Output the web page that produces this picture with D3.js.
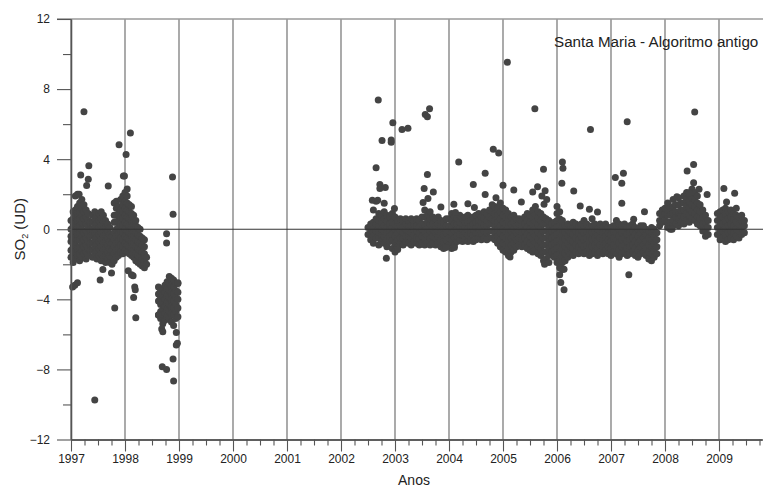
<!DOCTYPE html>
<html>
<head>
<meta charset="utf-8">
<script src="https://cdn.jsdelivr.net/npm/d3@7"></script>
<style>
    body { margin: 0; background: #fff; }
    svg { display: block; }
    text { font-family: "Liberation Sans", Arial, sans-serif; fill: #222; }
</style>
</head>
<body>
<div id="chart"></div>
<script>
"use strict";

const WIDTH = 763;
const HEIGHT = 488;

const TITLE = "Santa Maria - Algoritmo antigo";
const X_LABEL = "Anos";

const YEARS = [1997, 1998, 1999, 2000, 2001, 2002, 2003, 2004, 2005, 2006, 2007, 2008, 2009];
const Y_MAJOR = [-12, -8, -4, 0, 4, 8, 12];
const Y_MINOR = [-10, -6, -2, 2, 6, 10];

// columns of observations: [decimal year, [SO2 values]]
const band1997 = [
    [1997.00, [-1.6, -1.2, -0.7, -0.4, 0.0, 0.5]],
    [1997.04, [-1.9, -1.4, -1.0, -0.6, -0.2, 0.2, 0.6, 1.0]],
    [1997.08, [-1.7, -1.3, -0.9, -0.5, -0.1, 0.3, 0.8, 1.1, 1.9]],
    [1997.12, [-1.5, -1.1, -0.6, -0.3, 0.1, 0.5, 0.9, 1.3, 2.0]],
    [1997.16, [-1.8, -1.4, -1.0, -0.6, -0.2, 0.2, 0.6, 1.0, 1.5]],
    [1997.20, [-1.6, -1.2, -0.8, -0.4, 0.0, 0.4, 0.8, 1.2, 1.7]],
    [1997.24, [-1.4, -1.0, -0.6, -0.2, 0.3, 0.6, 1.0, 1.4]],
    [1997.28, [-1.7, -1.3, -0.9, -0.5, -0.1, 0.3, 0.7, 1.1]],
    [1997.32, [-1.5, -1.1, -0.7, -0.3, 0.1, 0.5, 0.9]],
    [1997.36, [-1.2, -0.8, -0.4, 0.0, 0.4]],
    [1997.40, [-1.6, -1.2, -0.8, -0.3, 0.0, 0.4, 0.8]],
    [1997.44, [-1.4, -1.0, -0.6, -0.2, 0.2, 0.6, 1.0]],
    [1997.48, [-1.7, -1.3, -0.9, -0.5, -0.1, 0.3, 0.7]],
    [1997.52, [-1.5, -1.1, -0.7, -0.3, 0.1, 0.5, 0.9]],
    [1997.56, [-1.8, -1.4, -1.0, -0.6, -0.2, 0.2, 0.6, 1.0]],
    [1997.60, [-1.6, -1.2, -0.8, -0.4, 0.0, 0.4, 0.8]],
    [1997.64, [-1.9, -1.5, -1.1, -0.7, -0.3, 0.1, 0.5]],
    [1997.68, [-1.7, -1.3, -0.9, -0.5, -0.1, 0.3]],
    [1997.72, [-1.9, -1.5, -1.1, -0.7, -0.3, 0.1]],
    [1997.76, [-2.0, -1.6, -1.2, -0.8, -0.4]],
    [1997.80, [-1.8, -1.4, -1.0, -0.6, -0.2, 0.4, 0.8, 1.5]],
    [1997.84, [-1.6, -1.2, -0.8, -0.4, 0.0, 0.4, 0.8, 1.2, 1.6]],
    [1997.88, [-1.5, -1.1, -0.7, -0.3, 0.1, 0.5, 0.9, 1.3]],
    [1997.92, [-1.3, -0.9, -0.5, -0.1, 0.3, 0.7, 1.1, 1.7]],
    [1997.96, [-1.4, -1.0, -0.6, -0.2, 0.2, 0.6, 1.0, 1.4, 1.9]],
    [1998.00, [-1.2, -0.8, -0.4, 0.0, 0.4, 0.8, 1.2, 1.6, 2.1]],
    [1998.04, [-1.3, -0.9, -0.5, -0.1, 0.3, 0.7, 1.1, 1.5, 1.9, 2.3]],
    [1998.08, [-1.4, -1.0, -0.6, -0.2, 0.2, 0.6, 1.0, 1.4]],
    [1998.12, [-1.5, -1.1, -0.7, -0.3, 0.1, 0.5, 0.9, 1.3]],
    [1998.16, [-1.6, -1.2, -0.8, -0.4, 0.0, 0.4, 0.8]],
    [1998.20, [-1.8, -1.4, -1.0, -0.6, -0.2, 0.2, 0.5]],
    [1998.24, [-1.9, -1.5, -1.1, -0.7, -0.3, 0.1]],
    [1998.28, [-2.0, -1.6, -1.2, -0.8, -0.4, 0.0]],
    [1998.32, [-2.1, -1.7, -1.3, -0.9, -0.5]],
    [1998.36, [-2.2, -1.8, -1.4, -1.0, -0.6]],
    [1998.40, [-2.0, -1.6]]
];

const band1998 = [
    [1998.62, [-3.3, -3.7, -4.1, -4.9]],
    [1998.66, [-3.5, -3.9, -4.3, -4.7, -5.1]],
    [1998.70, [-3.4, -3.8, -4.2, -4.6, -5.0, -5.4]],
    [1998.74, [-3.2, -3.6, -4.0, -4.4, -4.8, -5.2]],
    [1998.78, [-3.0, -3.4, -3.8, -4.2, -4.6, -5.0]],
    [1998.82, [-2.7, -3.1, -3.5, -3.9, -4.3, -4.7, -5.1]],
    [1998.86, [-2.8, -3.2, -3.6, -4.0, -4.4, -4.8, -5.3]],
    [1998.90, [-2.9, -3.3, -3.7, -4.1, -4.5, -4.9, -5.5]],
    [1998.94, [-3.1, -3.5, -3.9, -4.3, -4.7, -5.1]],
    [1998.98, [-3.1, -3.6, -4.0, -4.5, -5.0]]
];

const band2003 = [
    [2002.50, [-0.3, 0.1]],
    [2002.55, [-0.6, -0.2, 0.3]],
    [2002.60, [-0.8, -0.4, 0.0, 0.4, 1.1]],
    [2002.65, [-0.5, -0.1, 0.3, 0.6, 1.6]],
    [2002.70, [-0.9, -0.5, -0.2, 0.2, 0.5, 0.9]],
    [2002.75, [-0.7, -0.3, 0.0, 0.4, 0.8]],
    [2002.80, [-0.8, -0.4, -0.1, 0.2, 0.6, 1.0]],
    [2002.85, [-1.0, -0.6, -0.2, 0.1, 0.5, 0.8]],
    [2002.90, [-0.7, -0.4, 0.0, 0.3, 0.7]],
    [2002.95, [-1.1, -0.6, -0.3, 0.1, 0.4, 0.9]],
    [2003.00, [-1.2, -0.8, -0.4, 0.0, 0.3, 0.7]],
    [2003.05, [-1.0, -0.6, -0.2, 0.2, 0.5]],
    [2003.10, [-0.8, -0.5, -0.1, 0.2, 0.6]],
    [2003.15, [-0.9, -0.5, -0.2, 0.1, 0.5]],
    [2003.20, [-0.7, -0.4, 0.0, 0.3, 0.6]],
    [2003.25, [-0.8, -0.4, -0.1, 0.2, 0.5]],
    [2003.30, [-0.9, -0.5, -0.2, 0.2, 0.6]],
    [2003.35, [-0.7, -0.3, 0.0, 0.3, 0.5]],
    [2003.40, [-0.8, -0.5, -0.1, 0.2, 0.6]],
    [2003.45, [-0.9, -0.5, -0.2, 0.1, 0.5]],
    [2003.50, [-0.8, -0.4, 0.0, 0.3, 0.7]],
    [2003.55, [-0.9, -0.5, -0.1, 0.3, 0.7, 1.1]],
    [2003.60, [-0.8, -0.4, 0.0, 0.4, 0.8]],
    [2003.65, [-0.9, -0.5, -0.1, 0.3, 0.6, 1.0]],
    [2003.70, [-0.8, -0.4, 0.0, 0.3, 0.7]],
    [2003.75, [-0.9, -0.5, -0.2, 0.2, 0.6]],
    [2003.80, [-0.8, -0.4, -0.1, 0.3, 0.7]],
    [2003.85, [-1.0, -0.6, -0.2, 0.2, 0.5]],
    [2003.90, [-1.1, -0.7, -0.3, 0.1, 0.4]],
    [2003.95, [-1.0, -0.6, -0.2, 0.2, 0.6]],
    [2004.00, [-0.9, -0.5, -0.1, 0.2, 0.6]],
    [2004.05, [-1.1, -0.6, -0.2, 0.1, 0.5, 0.9]],
    [2004.10, [-0.9, -0.5, -0.1, 0.3, 0.7]],
    [2004.15, [-0.7, -0.4, 0.0, 0.3, 0.6]],
    [2004.20, [-0.6, -0.3, 0.1, 0.4, 0.8]],
    [2004.25, [-0.7, -0.3, 0.0, 0.3, 0.6]],
    [2004.30, [-0.6, -0.2, 0.1, 0.4, 0.7]],
    [2004.35, [-0.7, -0.3, 0.0, 0.4, 0.8]],
    [2004.40, [-0.6, -0.2, 0.2, 0.5]],
    [2004.45, [-0.7, -0.3, 0.0, 0.3, 0.7]],
    [2004.50, [-0.6, -0.2, 0.1, 0.4, 0.8]],
    [2004.55, [-0.5, -0.2, 0.2, 0.5, 0.9]],
    [2004.60, [-0.6, -0.2, 0.1, 0.4, 0.7]],
    [2004.65, [-0.5, -0.1, 0.2, 0.6, 1.0]],
    [2004.70, [-0.6, -0.2, 0.2, 0.5, 0.9]],
    [2004.75, [-0.5, -0.1, 0.3, 0.7, 1.1]],
    [2004.80, [-0.5, -0.1, 0.3, 0.6, 1.0, 1.4]],
    [2004.85, [-0.6, -0.2, 0.2, 0.5, 0.9, 1.3]],
    [2004.90, [-0.8, -0.4, 0.0, 0.4, 0.8, 1.2]],
    [2004.95, [-1.0, -0.6, -0.2, 0.2, 0.6, 1.0, 1.5]]
];

const band2005 = [
    [2005.00, [-1.2, -0.8, -0.4, 0.0, 0.4, 0.8, 1.2]],
    [2005.05, [-1.3, -0.9, -0.5, -0.1, 0.3, 0.7, 1.1]],
    [2005.10, [-1.5, -1.1, -0.7, -0.3, 0.1, 0.5, 0.9]],
    [2005.15, [-1.3, -0.9, -0.5, -0.1, 0.3, 0.7]],
    [2005.20, [-1.2, -0.8, -0.4, 0.0, 0.4, 0.8]],
    [2005.25, [-1.0, -0.6, -0.2, 0.2, 0.6]],
    [2005.30, [-0.9, -0.5, -0.1, 0.3, 0.6]],
    [2005.35, [-1.0, -0.6, -0.2, 0.2, 0.5]],
    [2005.40, [-0.9, -0.5, -0.1, 0.3, 0.7]],
    [2005.45, [-1.1, -0.7, -0.3, 0.1, 0.5, 0.9]],
    [2005.50, [-1.2, -0.8, -0.4, 0.0, 0.4, 0.8]],
    [2005.55, [-1.3, -0.9, -0.5, -0.1, 0.3, 0.7, 1.1]],
    [2005.60, [-1.2, -0.8, -0.4, 0.0, 0.4, 0.8, 1.3]],
    [2005.65, [-1.4, -1.0, -0.6, -0.2, 0.2, 0.6, 1.0]],
    [2005.70, [-1.5, -1.1, -0.7, -0.3, 0.1, 0.5, 0.9]],
    [2005.75, [-1.8, -1.3, -0.9, -0.5, -0.1, 0.3, 0.7]],
    [2005.80, [-1.7, -1.3, -0.9, -0.5, -0.1, 0.3, 0.6]],
    [2005.85, [-1.5, -1.1, -0.7, -0.3, 0.1, 0.5]],
    [2005.90, [-1.3, -0.9, -0.5, -0.1, 0.3]],
    [2005.95, [-1.6, -1.2, -0.8, -0.4, 0.0, 0.4]],
    [2006.00, [-1.9, -1.5, -1.1, -0.7, -0.3, 0.1, 0.5, 0.9, 1.3]],
    [2006.05, [-2.2, -1.8, -1.4, -1.0, -0.6, -0.2, 0.2, 0.6, 1.0]],
    [2006.10, [-2.3, -1.9, -1.5, -1.1, -0.7, -0.3, 0.1, 0.5]],
    [2006.15, [-1.8, -1.4, -1.0, -0.6, -0.2, 0.2]],
    [2006.20, [-1.6, -1.2, -0.8, -0.4, 0.0, 0.3]],
    [2006.25, [-1.4, -1.0, -0.6, -0.2, 0.2]],
    [2006.30, [-1.5, -1.1, -0.7, -0.3, 0.1, 0.4]],
    [2006.35, [-1.3, -0.9, -0.5, -0.1, 0.3]],
    [2006.40, [-1.4, -1.0, -0.6, -0.2, 0.2]],
    [2006.45, [-1.2, -0.8, -0.4, 0.0, 0.3]],
    [2006.50, [-1.4, -1.0, -0.6, -0.2, 0.2, 0.5]],
    [2006.55, [-1.3, -0.9, -0.5, -0.1, 0.3]],
    [2006.60, [-1.5, -1.1, -0.7, -0.3, 0.1]],
    [2006.65, [-1.4, -1.0, -0.6, -0.2, 0.2, 0.6]],
    [2006.70, [-1.3, -0.9, -0.5, -0.1, 0.3]],
    [2006.75, [-1.5, -1.1, -0.7, -0.3, 0.0]],
    [2006.80, [-1.3, -0.9, -0.5, -0.1, 0.3]],
    [2006.85, [-1.4, -1.0, -0.6, -0.2, 0.1]],
    [2006.90, [-1.2, -0.8, -0.4, 0.0, 0.3]],
    [2006.95, [-1.4, -1.0, -0.6, -0.2, 0.1]]
];

const band2007 = [
    [2007.00, [-1.5, -1.1, -0.7, -0.3, 0.1]],
    [2007.05, [-1.3, -0.9, -0.5, -0.1, 0.2]],
    [2007.10, [-1.4, -1.0, -0.6, -0.2, 0.2, 0.5]],
    [2007.15, [-1.6, -1.2, -0.8, -0.4, 0.0, 0.3]],
    [2007.20, [-1.4, -1.0, -0.6, -0.2, 0.2]],
    [2007.25, [-1.3, -0.9, -0.5, -0.1, 0.3]],
    [2007.30, [-1.5, -1.1, -0.7, -0.3, 0.1]],
    [2007.35, [-1.4, -1.0, -0.6, -0.2, 0.2]],
    [2007.40, [-1.3, -0.9, -0.5, -0.1, 0.3]],
    [2007.45, [-1.5, -1.1, -0.7, -0.3, 0.1]],
    [2007.50, [-1.6, -1.2, -0.8, -0.4, 0.0]],
    [2007.55, [-1.4, -1.0, -0.6, -0.2, 0.2]],
    [2007.60, [-1.3, -0.9, -0.5, -0.1, 0.2]],
    [2007.65, [-1.5, -1.1, -0.7, -0.3, 0.0]],
    [2007.70, [-1.7, -1.3, -0.9, -0.5, -0.1]],
    [2007.75, [-1.8, -1.4, -1.0, -0.6, -0.2, 0.1]],
    [2007.80, [-1.6, -1.2, -0.8, -0.4, 0.0]],
    [2007.85, [-1.4, -1.0, -0.6, -0.2]],
    [2007.90, [0.2, 0.5, 0.9]],
    [2007.95, [0.4, 0.8, 1.1]],
    [2008.00, [0.5, 0.9, 1.2]]
];

const band2008 = [
    [2008.05, [0.1, 0.4, 0.8, 1.1, 1.5]],
    [2008.10, [0.0, 0.4, 0.8, 1.2]],
    [2008.15, [0.2, 0.5, 0.9, 1.3, 1.7]],
    [2008.20, [0.3, 0.7, 1.0, 1.4]],
    [2008.25, [0.2, 0.6, 1.0, 1.4, 1.8]],
    [2008.30, [0.4, 0.8, 1.1, 1.5]],
    [2008.35, [0.3, 0.7, 1.1, 1.5, 1.9]],
    [2008.40, [0.5, 0.9, 1.3, 1.7, 2.1]],
    [2008.45, [0.4, 0.8, 1.2, 1.6, 2.0]],
    [2008.50, [0.6, 1.0, 1.4, 1.8, 2.3]],
    [2008.55, [0.5, 0.9, 1.3, 1.7, 2.1]],
    [2008.60, [0.3, 0.7, 1.1, 1.5, 1.9]],
    [2008.65, [0.2, 0.6, 1.0, 1.4]],
    [2008.70, [-0.1, 0.3, 0.7, 1.1]],
    [2008.75, [-0.4, 0.0, 0.4, 0.8]],
    [2008.80, [-0.3, 0.1, 0.5]],
    [2008.97, [-0.3, 0.1, 0.5, 0.9]],
    [2009.02, [-0.6, -0.2, 0.2, 0.6, 1.0]],
    [2009.07, [-0.5, -0.1, 0.3, 0.7, 1.1]],
    [2009.12, [-0.7, -0.3, 0.1, 0.5, 0.9, 1.2]],
    [2009.17, [-0.6, -0.2, 0.2, 0.6, 1.0]],
    [2009.22, [-0.5, -0.1, 0.3, 0.7, 1.1]],
    [2009.27, [-0.6, -0.2, 0.2, 0.6, 0.9]],
    [2009.32, [-0.4, 0.0, 0.4, 0.8, 1.2]],
    [2009.37, [-0.5, -0.1, 0.3, 0.7]],
    [2009.42, [-0.3, 0.1, 0.5, 0.8]],
    [2009.47, [-0.2, 0.2, 0.5]]
];

// isolated points: [decimal year, SO2]
const scatter1997 = [
    [1997.03, -3.3], [1997.07, -3.2], [1997.12, -3.05], [1997.15, 2.0], [1997.18, 3.1],
    [1997.24, 6.7], [1997.29, 2.5], [1997.32, 2.85], [1997.33, 3.63], [1997.44, -9.75],
    [1997.54, -2.9], [1997.59, -2.3], [1997.69, 2.47], [1997.75, -2.5], [1997.81, -4.5],
    [1997.89, 4.82], [1997.97, 3.04], [1997.99, 3.04], [1998.02, 4.27], [1998.10, 5.49],
    [1998.06, -2.37], [1998.12, -2.6], [1998.15, -2.66], [1998.18, -3.3], [1998.19, -3.45],
    [1998.16, -3.9], [1998.20, -5.05], [1998.77, -0.25], [1998.77, -0.78], [1998.88, 2.98],
    [1998.89, 0.85], [1998.62, -4.9], [1998.68, -5.7], [1998.70, -5.85], [1998.95, -5.9],
    [1998.95, -6.6], [1998.97, -6.5], [1998.89, -7.4], [1998.69, -7.85], [1998.77, -8.0],
    [1998.90, -8.66], [1998.98, -3.05]
];

const scatter2003 = [
    [2002.65, 3.51], [2002.69, 7.37], [2002.76, 5.07], [2002.72, 2.56], [2002.72, 2.32],
    [2002.82, 2.38], [2002.58, 1.65], [2002.68, 1.65], [2002.80, 1.48], [2002.84, -1.65],
    [2002.93, 4.97], [2002.93, 5.1], [2002.96, 6.08], [2002.99, 1.18], [2003.13, 5.7],
    [2003.24, 5.77], [2003.52, 1.52], [2003.54, 2.32], [2003.56, 6.55], [2003.60, 6.42],
    [2003.64, 6.88], [2003.60, 3.13], [2003.61, 1.75], [2003.71, 2.13], [2003.85, 1.27],
    [2004.09, 1.42], [2004.12, 0.95], [2004.18, 3.84], [2004.35, 1.46], [2004.45, 2.56],
    [2004.47, 1.24], [2004.67, 3.19], [2004.67, 1.99], [2004.82, 4.56], [2004.92, 4.35],
    [2004.87, 1.8], [2003.00, -1.3], [2003.05, -1.15], [2003.94, -1.04], [2004.10, -1.04]
];

const scatter2005 = [
    [2005.08, 9.53], [2005.00, 2.51], [2005.20, 2.24], [2005.34, 1.56], [2005.59, 6.88],
    [2005.55, 2.13], [2005.64, 2.43], [2005.75, 3.42], [2005.76, 1.42], [2005.78, 2.2],
    [2005.72, 1.9], [2005.81, 1.7], [2006.10, 3.84], [2006.11, 3.48], [2006.09, 2.62],
    [2006.31, 2.18], [2006.43, 1.33], [2006.60, 1.14], [2006.62, 5.7], [2006.75, 0.99],
    [2005.13, -1.58], [2005.77, -2.0], [2005.85, -1.9], [2006.07, -2.18], [2006.13, -2.28],
    [2006.07, -3.04], [2006.13, -3.46], [2006.05, -2.6]
];

const scatter2007 = [
    [2007.08, 2.95], [2007.23, 3.19], [2007.20, 2.62], [2007.20, 1.48], [2007.30, 6.13],
    [2007.62, 1.0], [2007.42, 0.57], [2007.33, -2.6], [2008.13, 0.0], [2008.22, 1.86],
    [2008.41, 3.32], [2008.53, 3.7], [2008.55, 6.69], [2008.53, 2.66], [2008.45, 2.09],
    [2008.63, 2.28], [2008.78, 1.99], [2009.09, 2.32], [2009.29, 2.05], [2009.14, 1.56]
];

const SVG = d3.select("#chart").append("svg")
    .attr("width", WIDTH)
    .attr("height", HEIGHT);

const xScale = d3.scaleLinear().domain([1997, 2009.8]).range([71, 762.2]);
const yScale = d3.scaleLinear().domain([-12, 12]).range([439.5, 19]);

const points = [];
[band1997, band1998, band2003, band2005, band2007, band2008].forEach(function (band) {
    band.forEach(function (col) {
        col[1].forEach(v => points.push({ year: col[0], value: v }));
    });
});
[scatter1997, scatter2003, scatter2005, scatter2007].forEach(function (list) {
    list.forEach(p => points.push({ year: p[0], value: p[1] }));
});

// year grid lines
SVG.append("g")
    .selectAll("line")
    .data(YEARS)
    .join("line")
    .attr("x1", d => xScale(d)).attr("x2", d => xScale(d))
    .attr("y1", yScale(12)).attr("y2", yScale(-12))
    .attr("stroke", "#7d7d7d")
    .attr("stroke-width", 1.3);

// top frame line
SVG.append("line")
    .attr("x1", 57).attr("x2", WIDTH)
    .attr("y1", yScale(12)).attr("y2", yScale(12))
    .attr("stroke", "#9a9a9a")
    .attr("stroke-width", 1.3);

// points
SVG.append("g")
    .selectAll("circle")
    .data(points)
    .join("circle")
    .attr("cx", d => xScale(d.year))
    .attr("cy", d => yScale(d.value))
    .attr("r", 3.5)
    .attr("fill", "#444");

// zero line
SVG.append("line")
    .attr("x1", xScale(1997)).attr("x2", WIDTH)
    .attr("y1", yScale(0)).attr("y2", yScale(0))
    .attr("stroke", "#333")
    .attr("stroke-width", 1.2);

// x axis
const quarters = [];
YEARS.forEach(function (y) {
    [0.25, 0.5, 0.75].forEach(q => quarters.push(y + q));
});

const xMinor = SVG.append("g")
    .attr("transform", `translate(0, ${yScale(-12)})`)
    .call(d3.axisBottom(xScale).tickValues(quarters).tickSize(6).tickSizeOuter(0).tickFormat(""));
const xMajor = SVG.append("g")
    .attr("transform", `translate(0, ${yScale(-12)})`)
    .call(d3.axisBottom(xScale).tickValues(YEARS).tickSize(12).tickSizeOuter(0).tickPadding(3).tickFormat(d3.format("d")));

// y axis
const yMinor = SVG.append("g")
    .attr("transform", `translate(${xScale(1997)}, 0)`)
    .call(d3.axisLeft(yScale).tickValues(Y_MINOR).tickSize(8).tickSizeOuter(0).tickFormat(""));
const yMajor = SVG.append("g")
    .attr("transform", `translate(${xScale(1997)}, 0)`)
    .call(d3.axisLeft(yScale).tickValues(Y_MAJOR).tickSize(14).tickSizeOuter(0).tickPadding(7).tickFormat(d3.format("d")));

[xMinor, xMajor, yMinor, yMajor].forEach(function (g) {
    g.selectAll("line").attr("stroke", "#555").attr("stroke-width", 1.1);
    g.select(".domain").attr("stroke", "#555").attr("stroke-width", 1.3);
    g.selectAll("text").attr("font-size", 12).attr("fill", "#222")
        .attr("font-family", "'Liberation Sans', Arial, sans-serif");
});

// labels
SVG.append("text")
    .attr("x", 554)
    .attr("y", 47)
    .attr("font-size", 15.2)
    .text(TITLE);

SVG.append("text")
    .attr("x", 414)
    .attr("y", 485)
    .attr("text-anchor", "middle")
    .attr("font-size", 14)
    .text(X_LABEL);

const yLabel = SVG.append("text")
    .attr("transform", `translate(25, ${yScale(0)}) rotate(-90)`)
    .attr("text-anchor", "middle")
    .attr("font-size", 15);
yLabel.append("tspan").text("SO");
yLabel.append("tspan").attr("font-size", 9).attr("dy", 3).text("2");
yLabel.append("tspan").attr("dy", -3).text(" (UD)");
</script>
</body>
</html>
